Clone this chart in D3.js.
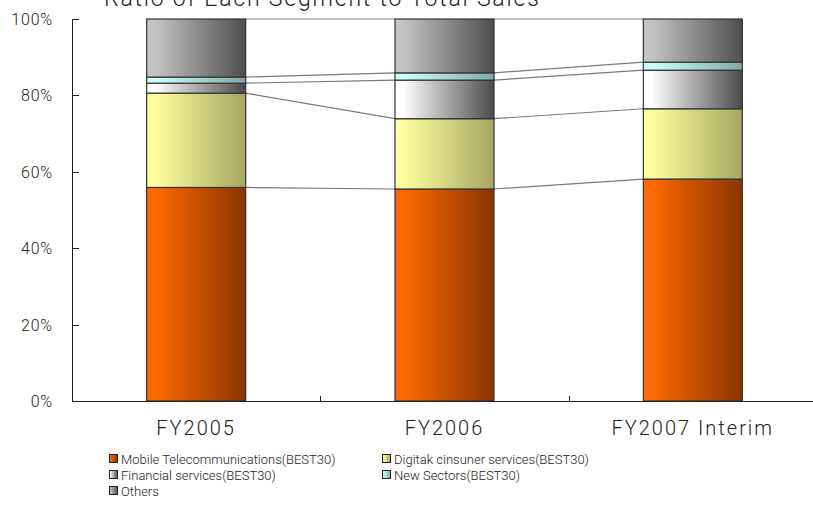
<!DOCTYPE html>
<html><head><meta charset="utf-8">
<script src="https://cdn.jsdelivr.net/npm/d3@7"></script>
<style>body{margin:0;background:#fff}svg{display:block}text{font-family:Roboto,"Noto Sans",sans-serif;font-weight:300;fill:#222}</style>
</head><body><svg id="c" width="813" height="505"></svg>
<script>
const categories = ["FY2005", "FY2006", "FY2007 Interim"];
const seriesNames = ["Mobile Telecommunications(BEST30)", "Digitak cinsuner services(BEST30)", "Financial services(BEST30)", "New Sectors(BEST30)", "Others"];
const mobile = [55.9, 55.5, 58.1];
const digital = [24.7, 18.4, 18.4];
const financial = [2.6, 10.1, 10.1];
const newSectors = [1.6, 1.9, 2.1];
const others = [15.2, 14.1, 11.3];
const yTicks = [0, 20, 40, 60, 80, 100];
const title = "Ratio of  Each Segment to Total Sales";

const seriesVals = [mobile, digital, financial, newSectors, others];
const grads = [["#ff6a00","#8a3400"],["#ffff9e","#a6a663"],["#ffffff","#4a4a4a"],["#ccffff","#80a8a8"],["#c4c4c4","#4e4e4e"]];

const svg = d3.select("#c");
const defs = svg.append("defs");
grads.forEach((g,i)=>{
  const lg = defs.append("linearGradient").attr("id","g"+i).attr("x1","0%").attr("x2","100%").attr("y1","0%").attr("y2","0%");
  lg.append("stop").attr("offset","8%").attr("stop-color",g[0]);
  lg.append("stop").attr("offset","100%").attr("stop-color",g[1]);
});

const x = d3.scaleBand().domain(categories).range([72, 817]).paddingInner(0).paddingOuter(0);
const y = d3.scaleLinear().domain([0,100]).range([401, 19]);
const barW = 99;

const data = categories.map((c,ci)=>{
  let acc=0;
  return seriesVals.map((s,si)=>{ const y0=acc; acc+=s[ci]; return {c, si, y0, y1:acc}; });
});

// title
svg.append("text").attr("x",104).attr("y",6).attr("font-size",23).attr("letter-spacing",1.8).text(title);

// connector lines
for (let si=0; si<seriesVals.length; si++){
  for (let ci=0; ci<categories.length-1; ci++){
    const a=data[ci][si], b=data[ci+1][si];
    svg.append("line")
      .attr("x1", x(categories[ci])+x.bandwidth()/2+barW/2).attr("y1", y(a.y1))
      .attr("x2", x(categories[ci+1])+x.bandwidth()/2-barW/2).attr("y2", y(b.y1))
      .attr("stroke","#7a7a7a").attr("stroke-width",1.2);
  }
}

// bars
data.forEach(stack=>{
  stack.forEach(d=>{
    svg.append("rect")
      .attr("x", x(d.c)+x.bandwidth()/2-barW/2).attr("width", barW)
      .attr("y", y(d.y1)).attr("height", y(d.y0)-y(d.y1))
      .attr("fill","url(#g"+d.si+")").attr("stroke","#333").attr("stroke-width",1.2);
  });
});

// y axis
const ya = svg.append("g");
ya.append("line").attr("x1",72.5).attr("x2",72.5).attr("y1",19).attr("y2",401).attr("stroke","#222");
yTicks.forEach(t=>{
  ya.append("line").attr("x1",72.5).attr("x2",79).attr("y1",Math.round(y(t))+0.5).attr("y2",Math.round(y(t))+0.5).attr("stroke","#222");
  ya.append("text").attr("x",53).attr("y",y(t)+6).attr("text-anchor","end").attr("font-size",16).attr("letter-spacing",0.8).text(t+"%");
});
// x axis
svg.append("line").attr("x1",72).attr("x2",813).attr("y1",401.5).attr("y2",401.5).attr("stroke","#222");
categories.forEach((c,i)=>{
  if(i>0) svg.append("line").attr("x1",Math.round(x(c))+0.5).attr("x2",Math.round(x(c))+0.5).attr("y1",396).attr("y2",401).attr("stroke","#222");
  svg.append("text").attr("x",x(c)+x.bandwidth()/2).attr("y",435).attr("text-anchor","middle").attr("font-size",20).attr("letter-spacing",2).text(c);
});

// legend
const legPos = [[109,464],[382,464],[109,480],[382,480],[109,496]];
seriesNames.forEach((n,i)=>{
  const [lx,ly]=legPos[i];
  svg.append("rect").attr("x",lx+0.5).attr("y",ly-9.5).attr("width",8).attr("height",8).attr("fill","url(#g"+i+")").attr("stroke","#222").attr("stroke-width",1);
  svg.append("text").attr("x",lx+12).attr("y",ly).attr("font-size",13).text(n);
});
</script></body></html>
